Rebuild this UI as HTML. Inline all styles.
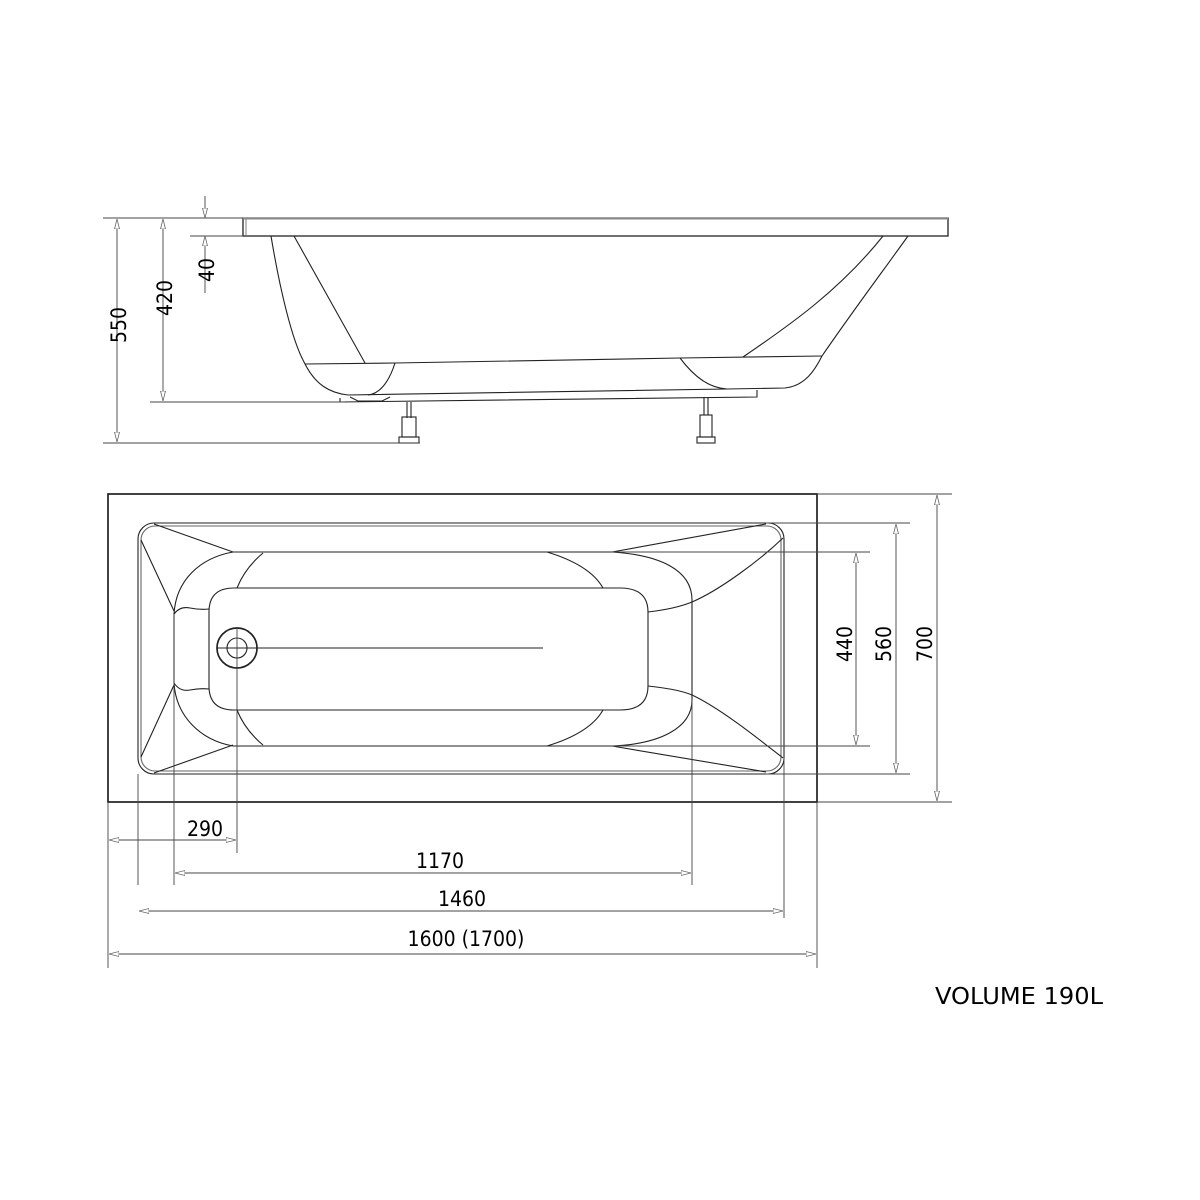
<!DOCTYPE html>
<html><head><style>html,body{margin:0;padding:0;background:#fff}svg{display:block}</style></head><body>
<svg width="1200" height="1200" viewBox="0 0 1200 1200" xmlns="http://www.w3.org/2000/svg">
<defs>
<marker id="a" viewBox="0 0 10 6" refX="10" refY="3" markerWidth="10" markerHeight="6" orient="auto-start-reverse" markerUnits="userSpaceOnUse"><path d="M0,0.5 L10,3 L0,5.5 Z" fill="#fff" stroke="#666" stroke-width="0.8"/></marker>
</defs>
<g fill="none" stroke="#222" stroke-width="1.1">
<!-- SIDE VIEW -->
<rect x="243" y="218" width="705" height="18" stroke-width="1.3"/>
<line x1="243" y1="218.5" x2="948" y2="218.5" stroke="#888" stroke-width="2"/>
<line x1="246" y1="219" x2="246" y2="235" stroke="#888"/>
<path d="M271,236 C280,290 292,340 304,362 C315,385 330,393 348,395"/>
<path d="M294,236 L365,363"/>
<path d="M305,364 L395,363 L680,358 L822,356"/>
<path d="M395,363 C388,385 378,394 368,395"/>
<path d="M348,395 L727,389 L785,388 C805,386 815,370 822,356 C850,315 880,275 908,236"/>
<path d="M883,236 C840,290 790,325 743,357"/>
<path d="M680,358 C695,378 710,388 727,389"/>
<path d="M340,402 L757,397 L757,390"/>
<path d="M340,398 L340,402"/>
<path d="M350,397 L358,401 L382,401 L390,397"/>
<path d="M407,402 V418 M411,402 V418"/>
<rect x="402" y="417" width="14" height="20"/>
<rect x="399" y="437" width="20" height="6"/>
<path d="M704,397 V415 M708,397 V415"/>
<rect x="700" y="415" width="12" height="22"/>
<rect x="697" y="437" width="18" height="6"/>
</g>
<g stroke="#444" stroke-width="0.9" fill="none">
<line x1="103" y1="218" x2="243" y2="218"/>
<line x1="190" y1="236" x2="243" y2="236"/>
<line x1="103" y1="443" x2="420" y2="443"/>
<line x1="150" y1="402" x2="345" y2="402"/>
<line x1="117" y1="219" x2="117" y2="442" marker-start="url(#a)" marker-end="url(#a)"/>
<line x1="163" y1="219" x2="163" y2="401" marker-start="url(#a)" marker-end="url(#a)"/>
<line x1="205" y1="196" x2="205" y2="218" marker-end="url(#a)"/>
<line x1="205" y1="293" x2="205" y2="236" marker-end="url(#a)"/>
</g>
<g font-family="'DejaVu Sans Condensed','Liberation Sans Narrow','Liberation Sans',sans-serif" font-size="21" fill="#000" text-anchor="middle">
<text transform="translate(126,325) rotate(-90)">550</text>
<text transform="translate(172,298) rotate(-90)">420</text>
<text transform="translate(214,270) rotate(-90)">40</text>
<text transform="translate(852,644) rotate(-90)">440</text>
<text transform="translate(891,644) rotate(-90)">560</text>
<text transform="translate(932,644) rotate(-90)">700</text>
<text x="205" y="836">290</text>
<text x="440" y="868">1170</text>
<text x="462" y="906">1460</text>
<text x="466" y="946">1600 (1700)</text>
</g>
<!-- TOP VIEW -->
<g fill="none" stroke="#222" stroke-width="1.1">
<rect x="108" y="494" width="709" height="308" stroke-width="1.7"/>
<rect x="138" y="523" width="646" height="251" rx="16"/>
<rect x="141" y="526" width="640" height="245" rx="14" stroke="#666"/>
<path d="M233,552 L612,552 M233,746 L612,746"/>
<path d="M234,588 L620,588 Q648,588 648,612 L648,686 Q648,710 620,710 L234,710 Q209,710 209,686 L209,612 Q209,588 234,588 Z"/>
<path d="M233,552 C200,558 176,580 174,614 L174,683 C176,716 200,740 233,746"/>
<path d="M174,614 Q180,606 190,608 Q200,610 209,609"/>
<path d="M174,683 Q180,692 190,690 Q200,688 209,689"/>
<path d="M263,553 Q245,568 237,588 M237,710 Q245,730 263,745"/>
<path d="M154,524 L233,552 M141,540 L174,611 M141,757 L174,685 M154,773 L233,745"/>
<path d="M612,552 C660,555 692,570 692,600 L692,700 C692,728 660,744 612,746"/>
<path d="M612,552 L766,524 M612,746 L766,772"/>
<path d="M783,538 C760,560 720,590 692,602 C680,607 665,610 648,612"/>
<path d="M783,758 C760,740 720,708 692,695 C680,690 665,688 648,686"/>
<path d="M547,552 Q590,565 603,588 M547,746 Q590,733 603,710"/>
<circle cx="237" cy="648" r="20" stroke-width="1.7"/>
<circle cx="237" cy="648" r="10"/>
<line x1="217" y1="648" x2="543" y2="648"/>
</g>
<g stroke="#444" stroke-width="0.9" fill="none">
<line x1="108" y1="802" x2="108" y2="968"/>
<line x1="138" y1="774" x2="138" y2="885"/>
<line x1="174" y1="614" x2="174" y2="885"/>
<line x1="237" y1="628" x2="237" y2="853"/>
<line x1="692" y1="700" x2="692" y2="885"/>
<line x1="784" y1="758" x2="784" y2="918"/>
<line x1="817" y1="802" x2="817" y2="968"/>
<line x1="109" y1="840" x2="236" y2="840" marker-start="url(#a)" marker-end="url(#a)"/>
<line x1="175" y1="873" x2="691" y2="873" marker-start="url(#a)" marker-end="url(#a)"/>
<line x1="139" y1="911" x2="783" y2="911" marker-start="url(#a)" marker-end="url(#a)"/>
<line x1="109" y1="954" x2="816" y2="954" marker-start="url(#a)" marker-end="url(#a)"/>
<line x1="612" y1="552" x2="870" y2="552"/>
<line x1="612" y1="746" x2="870" y2="746"/>
<line x1="766" y1="523" x2="910" y2="523"/>
<line x1="766" y1="774" x2="910" y2="774"/>
<line x1="817" y1="494" x2="952" y2="494"/>
<line x1="817" y1="802" x2="952" y2="802"/>
<line x1="856" y1="553" x2="856" y2="745" marker-start="url(#a)" marker-end="url(#a)"/>
<line x1="896" y1="524" x2="896" y2="773" marker-start="url(#a)" marker-end="url(#a)"/>
<line x1="937" y1="495" x2="937" y2="801" marker-start="url(#a)" marker-end="url(#a)"/>
</g>
<text x="935" y="1004" font-family="'DejaVu Sans','Liberation Sans',sans-serif" font-size="23" fill="#000" textLength="168" lengthAdjust="spacingAndGlyphs">VOLUME 190L</text>
</svg>
</body></html>
